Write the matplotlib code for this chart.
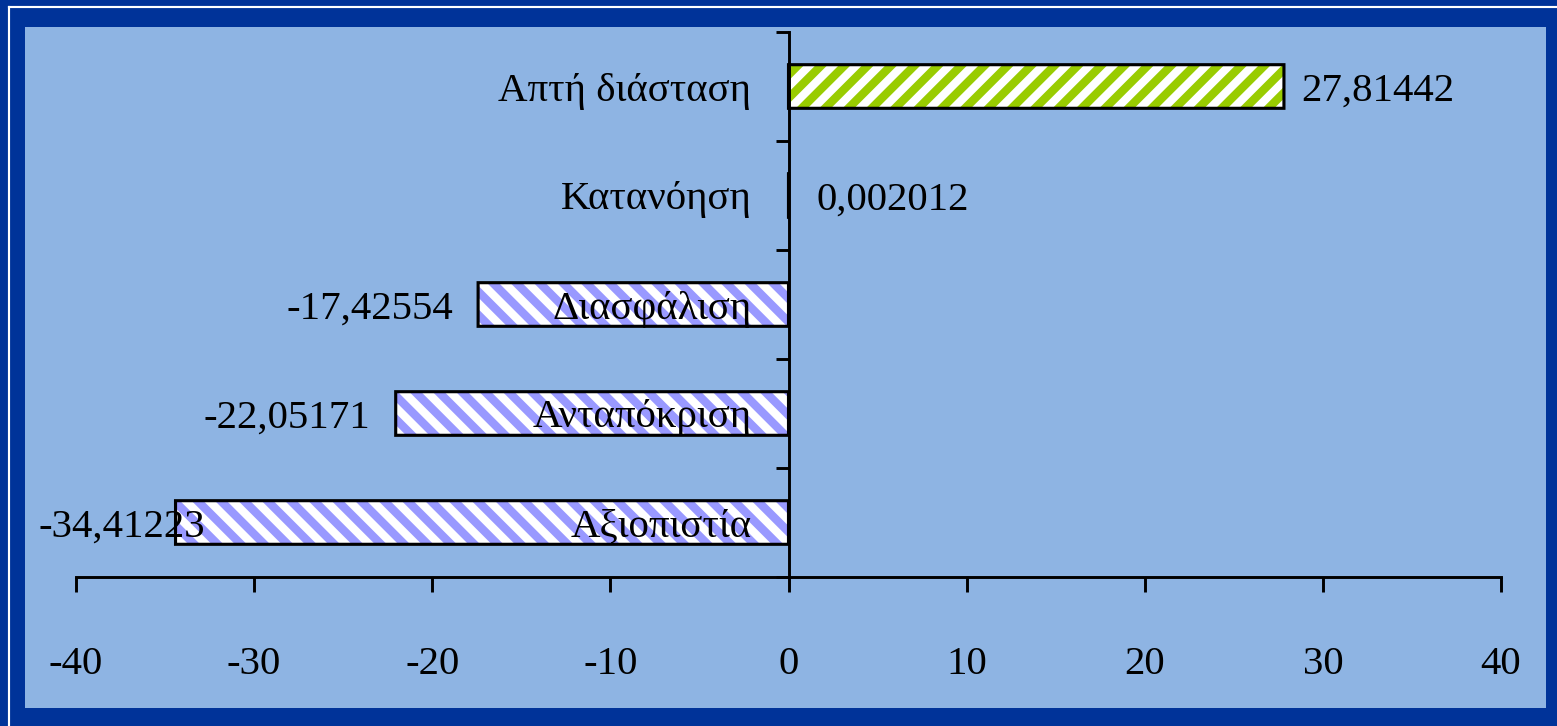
import numpy as np
import matplotlib
matplotlib.use('Agg')
import matplotlib.pyplot as plt
from matplotlib.patches import Rectangle
from matplotlib.lines import Line2D

# data
categories = ['Αξιοπιστία', 'Ανταπόκριση', 'Διασφάλιση', 'Κατανόηση', 'Απτή διάσταση']
values = [-34.41223, -22.05171, -17.42554, 0.002012, 27.81442]
value_labels = ['-34,41223', '-22,05171', '-17,42554', '0,002012', '27,81442']
xticks = [-40, -30, -20, -10, 0, 10, 20, 30, 40]

W, H, DPI = 1557, 726, 140
plt.rcParams['font.family'] = 'Liberation Serif'
plt.rcParams['hatch.linewidth'] = 4.3

fig = plt.figure(figsize=(W / DPI, H / DPI), dpi=DPI)
fig.patch.set_facecolor('#003399')

# light panel + white frame lines
fig.patches.append(Rectangle((25 / W, 1 - 708 / H), (1546 - 25) / W, (708 - 27) / H,
                             transform=fig.transFigure, facecolor='#8EB4E3',
                             edgecolor='none', zorder=-5))
fig.lines.append(Line2D([9 / W, 9 / W], [0, 1 - 7 / H], transform=fig.transFigure,
                        color='white', lw=1.1, zorder=-5))
fig.lines.append(Line2D([9 / W, 1.01], [1 - 7 / H, 1 - 7 / H], transform=fig.transFigure,
                        color='white', lw=1.1, zorder=-5))

ax = fig.add_axes([76 / W, 1 - 577 / H, (1501 - 76) / W, (577 - 32) / H])
ax.set_facecolor('none')

y = np.arange(len(categories))
fills = ['#9999FF' if v < 0 else '#99CC00' for v in values]
hatches = ['\\\\' if v < 0 else '//' for v in values]

# hatched fill, then black outline on top
for yi, v, c, h in zip(y, values, fills, hatches):
    ax.barh(yi, v, height=0.4, color='white', edgecolor=c, hatch=h, lw=0, zorder=2)
outl = ax.barh(y, values, height=0.4, fill=False, edgecolor='black', lw=1.6, zorder=3)
for r in outl:
    r.set_snap(False)

ax.set_xlim(-40, 40)
ax.set_ylim(-0.5, len(categories) - 0.5)

for s in ['top', 'right']:
    ax.spines[s].set_visible(False)
ax.spines['left'].set_position(('data', 0))
ax.spines['left'].set_linewidth(1.5)
ax.spines['bottom'].set_linewidth(1.5)

ax.set_xticks(xticks)
ax.set_xticklabels([str(t) for t in xticks])
ax.tick_params(axis='x', direction='out', length=7.5, width=1.5, pad=28, labelsize=21)
ax.set_yticks(np.arange(len(categories) + 1) - 0.5)
ax.set_yticklabels([])
ax.tick_params(axis='y', direction='out', length=6.5, width=1.5)

# category names right of the axis line
for yi, name in zip(y, categories):
    ax.annotate(name, (0, yi), xytext=(-37, 0), textcoords='offset pixels',
                ha='right', va='center_baseline', fontsize=21, zorder=5)

# value labels
for yi, v, lab in zip(y, values, value_labels):
    if v >= 0:
        off = 28 if v < 1 else 17
        ax.annotate(lab, (v, yi), xytext=(off, 0), textcoords='offset pixels',
                    ha='left', va='center_baseline', fontsize=21, zorder=5)
    elif v < -30:
        # label pushed against the plot edge
        ax.annotate(lab, (-40, yi), xytext=(-38, 0), textcoords='offset pixels',
                    ha='left', va='center_baseline', fontsize=21, zorder=5,
                    annotation_clip=False)
    else:
        ax.annotate(lab, (v, yi), xytext=(-25, 0), textcoords='offset pixels',
                    ha='right', va='center_baseline', fontsize=21, zorder=5)

plt.savefig('out.png', dpi=DPI, facecolor=fig.get_facecolor())
